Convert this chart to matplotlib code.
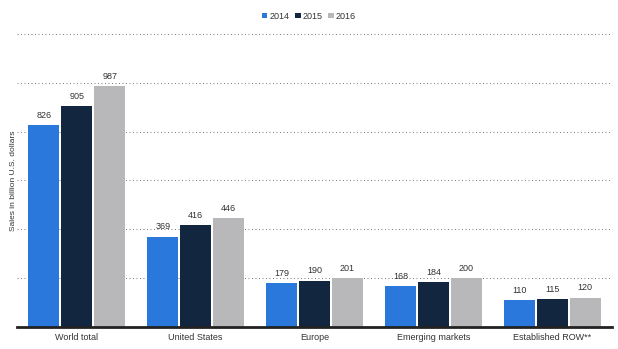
import matplotlib.pyplot as plt
import numpy as np

plt.rcParams['font.family'] = ['Liberation Sans', 'DejaVu Sans']

categories = ["World total", "United States", "Europe", "Emerging markets", "Established ROW**"]
years = ["2014", "2015", "2016"]
sales_2014 = [826, 369, 179, 168, 110]
sales_2015 = [905, 416, 190, 184, 115]
sales_2016 = [987, 446, 201, 200, 120]
colors = ["#2a78dc", "#12263f", "#b8b8ba"]

fig = plt.figure(figsize=(6.18, 3.49), dpi=100)
ax = fig.add_axes([0.028, 0.063, 0.962, 0.84])

x = np.arange(len(categories))
width = 0.26
series = [sales_2014, sales_2015, sales_2016]
for i in range(3):
    pos = x + (i - 1) * (width + 0.017)
    bars = ax.bar(pos, series[i], width, color=colors[i], label=years[i], zorder=2)
    for b, v in zip(bars, series[i]):
        ax.text(b.get_x() + b.get_width() / 2, v + 22, str(v), ha='center', va='bottom',
                fontsize=6.5, color='#333333')

ax.set_xlim(-0.5, len(categories) - 0.5)
ax.set_ylim(0, 1200)
ax.set_yticks(np.arange(0, 1201, 200))
ax.set_yticklabels([])
ax.tick_params(axis='y', length=0)
ax.tick_params(axis='x', length=0, labelsize=6.5, labelcolor='#333333', pad=4)
ax.set_xticks(x)
ax.set_xticklabels(categories)
ax.grid(axis='y', linestyle=(0, (1, 2.6)), color='#777777', linewidth=0.7, zorder=0)
for s in ['top', 'right', 'left']:
    ax.spines[s].set_visible(False)
ax.spines['bottom'].set_color('#222222')
ax.spines['bottom'].set_linewidth(2)
ax.set_ylabel('Sales in billion U.S. dollars', fontsize=6, color='#333333')
ax.yaxis.set_label_coords(-0.007, 0.5)
ax.yaxis.label.set_verticalalignment('center')

fig.legend(loc='upper center', bbox_to_anchor=(0.5, 0.99), ncol=3, frameon=False,
           fontsize=6.5, handlelength=0.6, handleheight=0.6, handletextpad=0.25,
           columnspacing=0.6, labelcolor='#333333')

fig.savefig('out.png', dpi=100)
